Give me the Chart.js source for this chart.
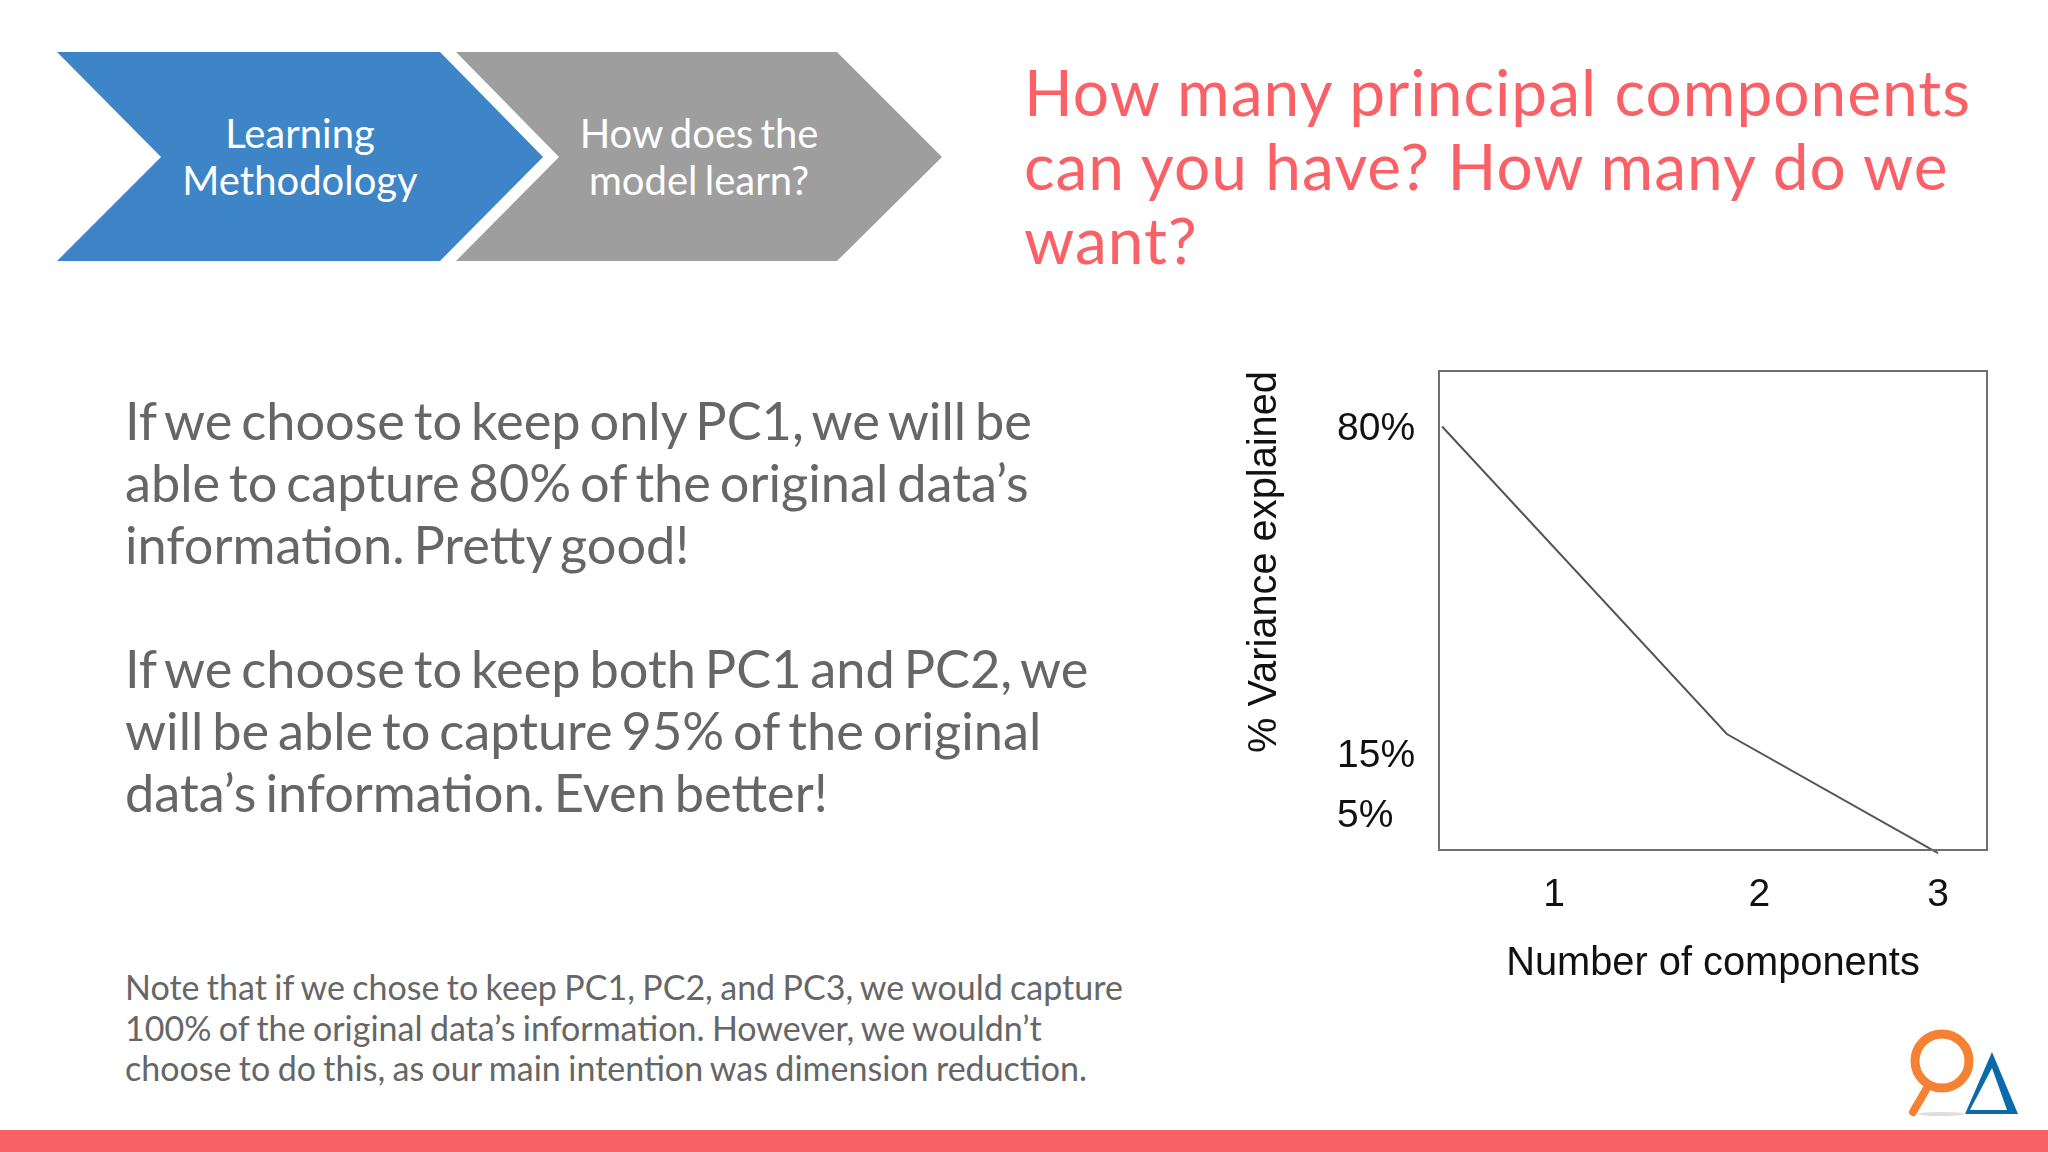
<!DOCTYPE html>
<html>
<head>
<meta charset="utf-8">
<script src="https://cdn.jsdelivr.net/npm/chart.js@4"></script>
<style>
html, body { margin: 0; padding: 0; background: #fff; }
#page { position: relative; width: 2048px; height: 1152px; overflow: hidden; background: #fff; font-family: Lato, sans-serif; }
#page > svg { position: absolute; left: 0; top: 0; }
.t { position: absolute; white-space: pre; }
.step { color: #fff; font-size: 40px; line-height: 47px; word-spacing: -3px; text-align: center; transform: translateX(-50%); }
.body { left: 125px; color: #666; font-size: 52.3px; line-height: 62px; word-spacing: -4.5px; }
.note { left: 125px; color: #666; font-size: 34px; line-height: 40.5px; word-spacing: -1.3px; }
.hand { left: 1024px; color: #f96167; font-size: 64px; line-height: 74px; letter-spacing: 1px; }
#bar { position: absolute; left: 0; top: 1130px; width: 2048px; height: 22px; background: #f96167; }
#chartBox { position: absolute; left: 1200px; top: 340px; width: 848px; height: 660px; }
</style>
</head>
<body>
<div id="page">
  <svg width="2048" height="1152">
    <polygon points="57,52 440,52 543,157 440,261 57,261 161,157" fill="#3d85c6"/>
    <polygon points="456,52 837,52 942,157 837,261 456,261 559,157" fill="#9e9e9e"/>
    <path d="M1927,1088 L1913,1112" stroke="#f58233" stroke-width="8" stroke-linecap="round"/>
    <circle cx="1942" cy="1061" r="27" fill="none" stroke="#f58233" stroke-width="9"/>
    <ellipse cx="1941" cy="1114" rx="23" ry="2" fill="#ddd"/>
    <path d="M1992,1052 L1965,1114 L2018,1114 Z M1992,1068 L1970,1110 L2007,1110 Z" fill="#0b6aa8" fill-rule="evenodd"/>
  </svg>

  <div class="t step" style="left:300px;top:110px">Learning
Methodology</div>
  <div class="t step" style="left:699px;top:110px">How does the
model learn?</div>

  <div class="t hand" style="top:55px">How many principal components
can you have? How many do we
want?</div>

  <div class="t body" style="top:389px">If we choose to keep only PC1, we will be
able to capture 80% of the original data’s
information. Pretty good!</div>
  <div class="t body" style="top:637px">If we choose to keep both PC1 and PC2, we
will be able to capture 95% of the original
data’s information. Even better!</div>
  <div class="t note" style="top:967px">Note that if we chose to keep PC1, PC2, and PC3, we would capture
100% of the original data’s information. However, we wouldn’t
choose to do this, as our main intention was dimension reduction.</div>

  <div id="chartBox"><canvas id="chart" width="848" height="660"></canvas></div>
  <div id="bar"></div>
</div>

<script>
// values; the sketch's labels do not sit exactly on the line
const componentPositions = [0.417, 1.9, 3];
const varianceExplained = [80, 19, -4.6];

const xTickValues = [1, 2.07, 3];
const xTickLabels = ['1', '2', '3'];
const yTickValues = [79.5, 14.5, 2.6];
const yTickLabels = ['80%', '15%', '5%'];

const axisFont = 'Liberation Sans, Arial, sans-serif';

// box around the plot
const plotBox = {
    id: 'plotBox',
    afterDraw(chart) {
        const a = chart.chartArea;
        const ctx = chart.ctx;
        ctx.save();
        ctx.strokeStyle = '#6e6e6e';
        ctx.lineWidth = 2;
        ctx.strokeRect(a.left, a.top, a.right - a.left, a.bottom - a.top);
        ctx.restore();
    }
};

new Chart(document.getElementById('chart'), {
    type: 'line',
    data: {
        datasets: [{
            data: componentPositions.map((x, i) => ({ x: x, y: varianceExplained[i] })),
            borderColor: '#555',
            borderWidth: 2,
            tension: 0,
            pointRadius: 0,
            clip: false
        }]
    },
    options: {
        responsive: false,
        animation: false,
        devicePixelRatio: 1,
        layout: { padding: { left: 41, top: 31, right: 61, bottom: 12 } },
        plugins: { legend: { display: false }, tooltip: { enabled: false } },
        scales: {
            x: {
                type: 'linear',
                min: 0.401,
                max: 3.255,
                grid: { display: false },
                border: { display: false },
                afterFit: s => { s.height = 138; },
                afterBuildTicks: s => { s.ticks = xTickValues.map(v => ({ value: v })); },
                ticks: {
                    autoSkip: false,
                    maxRotation: 0,
                    padding: 14,
                    color: '#111',
                    font: { family: axisFont, size: 39 },
                    callback: (v, i) => xTickLabels[i]
                },
                title: {
                    display: true,
                    text: 'Number of components',
                    color: '#111',
                    padding: 0,
                    font: { family: axisFont, size: 39.8 }
                }
            },
            y: {
                type: 'linear',
                position: 'left',
                min: -4,
                max: 91,
                weight: 0,
                grid: { display: false },
                border: { display: false },
                afterFit: s => { s.width = 102; },
                afterBuildTicks: s => { s.ticks = yTickValues.map(v => ({ value: v })); },
                ticks: {
                    autoSkip: false,
                    crossAlign: 'far',
                    color: '#111',
                    font: { family: axisFont, size: 39 },
                    callback: (v, i) => yTickLabels[i]
                }
            },
            // second axis only to hold the title left of the tick labels
            yTitle: {
                type: 'linear',
                position: 'left',
                min: 0,
                max: 1,
                weight: 1,
                grid: { display: false },
                border: { display: false },
                ticks: { display: false },
                afterFit: s => { s.width = 96; },
                title: {
                    display: true,
                    text: '% Variance explained',
                    align: 'end',
                    color: '#111',
                    padding: 0,
                    font: { family: axisFont, size: 39.8 }
                }
            }
        }
    },
    plugins: [plotBox]
});
</script>
</body>
</html>
